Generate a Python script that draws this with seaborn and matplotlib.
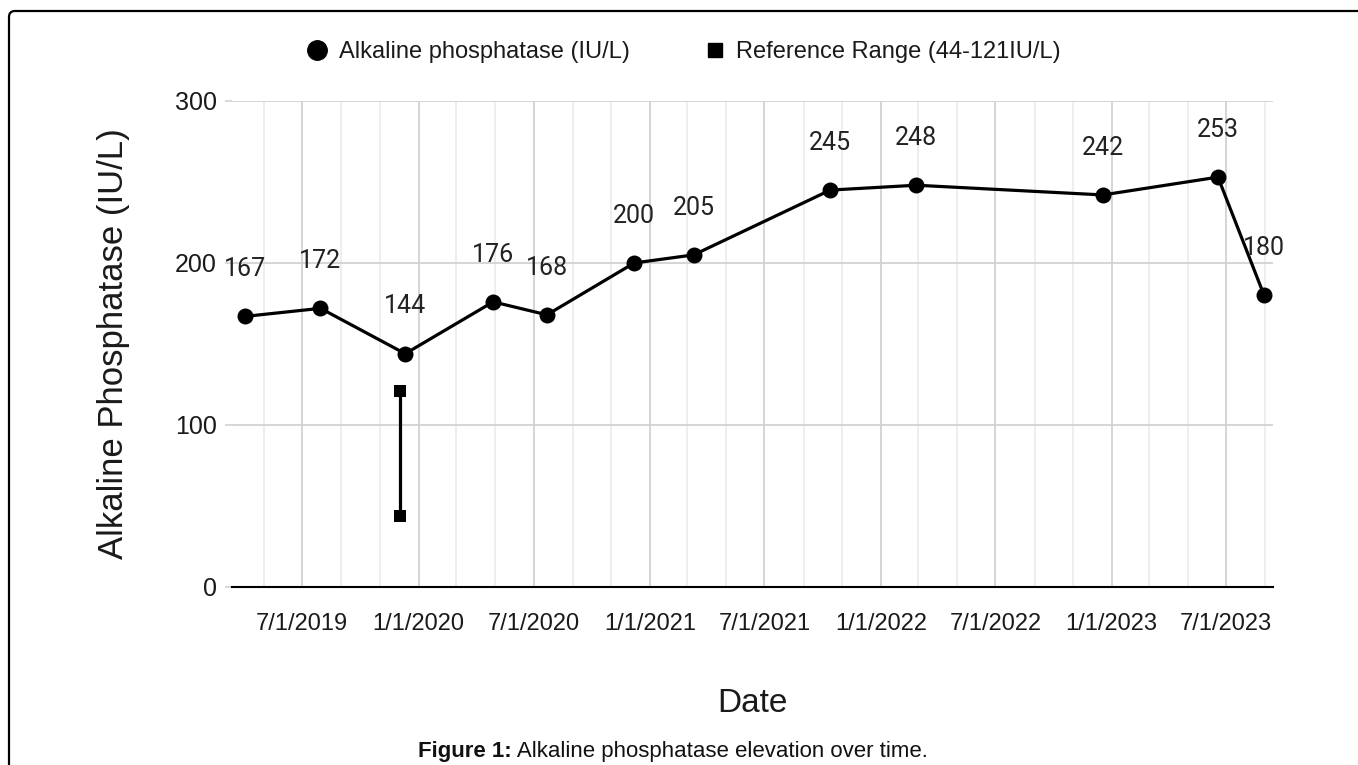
import pandas as pd
import matplotlib
matplotlib.use("Agg")
import matplotlib.pyplot as plt
import matplotlib.dates as mdates
from matplotlib.lines import Line2D
from matplotlib.patches import FancyBboxPatch
import seaborn as sns

# Alkaline phosphatase measurements (IU/L)
alp_dates = ["2019-04-01", "2019-07-30", "2019-12-11", "2020-04-28", "2020-07-22",
             "2020-12-07", "2021-03-11", "2021-10-13", "2022-02-26", "2022-12-18",
             "2023-06-18", "2023-08-30"]
alp_values = [167, 172, 144, 176, 168, 200, 205, 245, 248, 242, 253, 180]

# Reference range (44-121 IU/L), drawn at one date
ref_dates = ["2019-12-02", "2019-12-02"]
ref_values = [121, 44]

y_ticks = [0, 100, 200, 300]
x_start, x_end = "2019-03-12", "2023-09-13"

alp_df = pd.DataFrame({"date": pd.to_datetime(alp_dates), "value": alp_values})
ref_df = pd.DataFrame({"date": pd.to_datetime(ref_dates), "value": ref_values})

sns.set_theme(style="white")
plt.rcParams["font.family"] = ["Liberation Sans", "DejaVu Sans"]

fig = plt.figure(figsize=(13.58, 7.65), dpi=100)
ax = fig.add_axes([0.1708, 0.2327, 0.7666, 0.6353])

# Data series
sns.lineplot(data=alp_df, x="date", y="value", ax=ax, color="black", lw=2.3,
             marker="o", markersize=11.5, markeredgewidth=0, zorder=4)
sns.lineplot(data=ref_df, x="date", y="value", ax=ax, color="black", lw=2.3,
             marker="s", markersize=9, markeredgewidth=0, zorder=4,
             estimator=None, sort=False)

# Data labels
for d, v in zip(alp_df["date"], alp_df["value"]):
    ax.annotate(str(v), xy=(d, v), xytext=(0, 34), textcoords="offset points",
                ha="center", va="center", fontsize=18, family="Roboto",
                color="#222222", zorder=5)

# Axes
ax.set_xlim(pd.Timestamp(x_start), pd.Timestamp(x_end))
ax.set_ylim(0, 300)
ax.set_yticks(y_ticks)
ax.xaxis.set_major_locator(mdates.MonthLocator(bymonth=[1, 7]))
ax.xaxis.set_minor_locator(mdates.MonthLocator(bymonth=[1, 3, 5, 7, 9, 11]))
ax.xaxis.set_major_formatter(plt.FuncFormatter(
    lambda x, pos: "{0.month}/{0.day}/{0.year}".format(mdates.num2date(x))))

ax.grid(which="minor", axis="x", color="#ebebeb", lw=1.2, zorder=0)
ax.grid(which="major", axis="x", color="#d2d2d2", lw=1.3, zorder=0)
ax.grid(which="major", axis="y", color="#d2d2d2", lw=1.3, zorder=0)
ax.set_axisbelow(True)

for s in ["top", "right", "left"]:
    ax.spines[s].set_visible(False)
ax.spines["bottom"].set_color("black")
ax.spines["bottom"].set_linewidth(1.5)

ax.tick_params(axis="x", which="major", direction="inout", length=12, width=1.4,
               color="black", labelsize=17, pad=13, labelcolor="#1a1a1a")
ax.tick_params(axis="x", which="minor", length=0)
ax.tick_params(axis="y", length=5, width=1.2, color="#d2d2d2", labelsize=18,
               pad=6, labelcolor="#1a1a1a", left=True)
ax.yaxis.get_major_ticks()[0].tick1line.set_color("black")

ax.set_xlabel("Date", fontsize=24, labelpad=38, color="#1a1a1a")
ax.set_ylabel("Alkaline Phosphatase (IU/L)", fontsize=25, labelpad=32, color="#1a1a1a")

# Legend
handles = [
    Line2D([], [], color="black", marker="o", markersize=14, lw=0),
    Line2D([], [], color="black", marker="s", markersize=10, lw=0),
]
fig.legend(handles, ["Alkaline phosphatase (IU/L)", "Reference Range (44-121IU/L)"],
           loc="center", bbox_to_anchor=(0.503, 0.932), ncol=2, frameon=False,
           fontsize=17, handlelength=1.0, handletextpad=0.4, columnspacing=3.1,
           labelcolor="#1a1a1a")

# Caption
cap = fig.text(0.3078, 0.018, "Figure 1:", fontsize=16, fontweight="bold",
               ha="left", va="center", color="#111111")
ax.annotate(" Alkaline phosphatase elevation over time.", xy=(1, 0.5), xycoords=cap,
            ha="left", va="center", fontsize=16, color="#111111",
            annotation_clip=False)

# Frame around the figure
frame = FancyBboxPatch((0.09, -0.5), 14.0, 8.04, boxstyle="round,pad=0,rounding_size=0.06",
                       transform=fig.dpi_scale_trans, fill=False, edgecolor="black",
                       lw=1.6)
fig.patches.append(frame)

fig.savefig("out.png", dpi=100)
